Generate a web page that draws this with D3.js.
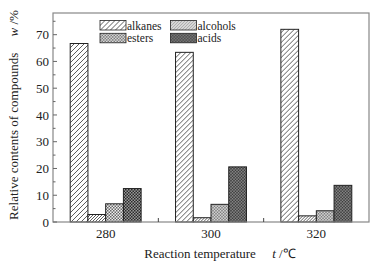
<!DOCTYPE html>
<html>
<head>
<meta charset="utf-8">
<script src="https://d3js.org/d3.v7.min.js"></script>
<style>
  body { margin: 0; background: #fff; }
  svg { display: block; font-family: "Liberation Serif", "Times New Roman", serif; }
</style>
</head>
<body>
<div id="chart"></div>
<script>
// chart data
const temperatures = ["280", "300", "320"];
const compounds = ["alkanes", "alcohols", "esters", "acids"];
const alkanes = [66.7, 63.4, 72.0];
const alcohols = [2.8, 1.6, 2.3];
const esters = [6.8, 6.6, 4.2];
const acids = [12.5, 20.6, 13.7];
const yTicks = [0, 10, 20, 30, 40, 50, 60, 70];

const seriesValues = { alkanes, alcohols, esters, acids };

const width = 382, height = 264;
const margin = { top: 13, right: 13, bottom: 42, left: 53 };

const svg = d3.select("#chart").append("svg")
  .attr("width", width)
  .attr("height", height);

// fill patterns for each compound
const defs = svg.append("defs");

function hatch(id, step) {
  const p = defs.append("pattern")
    .attr("id", id)
    .attr("patternUnits", "userSpaceOnUse")
    .attr("width", step)
    .attr("height", step);
  p.append("rect").attr("width", step).attr("height", step).attr("fill", "#fff");
  p.append("path")
    .attr("d", `M0,${step} L${step},0 M${-step / 2},${step / 2} L${step / 2},${-step / 2} M${step / 2},${step * 1.5} L${step * 1.5},${step / 2}`)
    .attr("stroke", "#333")
    .attr("stroke-width", 0.8);
}
function checker(id, bg, fg) {
  const p = defs.append("pattern")
    .attr("id", id)
    .attr("patternUnits", "userSpaceOnUse")
    .attr("width", 3)
    .attr("height", 3);
  p.append("rect").attr("width", 3).attr("height", 3).attr("fill", bg);
  p.append("rect").attr("width", 1.5).attr("height", 1.5).attr("fill", fg);
  p.append("rect").attr("x", 1.5).attr("y", 1.5).attr("width", 1.5).attr("height", 1.5).attr("fill", fg);
}
hatch("p-alkanes", 5);
hatch("p-alcohols", 3);
checker("p-esters", "#eee", "#666");
checker("p-acids", "#999", "#2a2a2a");

const fillFor = c => `url(#p-${c})`;

const x0 = d3.scaleBand()
  .domain(temperatures)
  .range([margin.left, width - margin.right])
  .padding(0);

const x1 = d3.scaleBand()
  .domain(compounds)
  .range([0, x0.bandwidth()])
  .paddingInner(0)
  .paddingOuter(0.97);

const y = d3.scaleLinear()
  .domain([0, 78.1])
  .range([height - margin.bottom, margin.top]);

// bars
const groups = svg.append("g")
  .selectAll("g")
  .data(temperatures)
  .join("g")
  .attr("transform", d => `translate(${x0(d)},0)`);

groups.selectAll("rect")
  .data((d, i) => compounds.map(c => ({ c, v: seriesValues[c][i] })))
  .join("rect")
  .attr("x", d => x1(d.c))
  .attr("y", d => y(d.v))
  .attr("width", x1.bandwidth())
  .attr("height", d => y(0) - y(d.v))
  .attr("fill", d => fillFor(d.c))
  .attr("stroke", "#222")
  .attr("stroke-width", 1);

// frame
svg.append("rect")
  .attr("x", margin.left)
  .attr("y", margin.top)
  .attr("width", width - margin.left - margin.right)
  .attr("height", height - margin.top - margin.bottom)
  .attr("fill", "none")
  .attr("stroke", "#888")
  .attr("stroke-width", 1.2);

// y axis: inward ticks
const yAxis = svg.append("g")
  .attr("transform", `translate(${margin.left},0)`);
yAxis.selectAll("line.major")
  .data(yTicks)
  .join("line")
  .attr("class", "major")
  .attr("x1", 0).attr("x2", 4)
  .attr("y1", d => y(d)).attr("y2", d => y(d))
  .attr("stroke", "#666");
yAxis.selectAll("line.minor")
  .data(yTicks.map(t => t + 5))
  .join("line")
  .attr("class", "minor")
  .attr("x1", 0).attr("x2", 2.5)
  .attr("y1", d => y(d)).attr("y2", d => y(d))
  .attr("stroke", "#666");
yAxis.selectAll("text")
  .data(yTicks)
  .join("text")
  .attr("x", -4)
  .attr("y", d => y(d))
  .attr("dy", "0.35em")
  .attr("text-anchor", "end")
  .attr("font-size", 13)
  .attr("fill", "#222")
  .text(d => d);

// x axis: category labels and boundary ticks
svg.append("g")
  .selectAll("text")
  .data(temperatures)
  .join("text")
  .attr("x", d => x0(d) + x0.bandwidth() / 2)
  .attr("y", height - margin.bottom + 16)
  .attr("text-anchor", "middle")
  .attr("font-size", 13)
  .attr("fill", "#222")
  .text(d => d);

svg.append("g")
  .selectAll("line")
  .data(temperatures.slice(1))
  .join("line")
  .attr("x1", d => x0(d)).attr("x2", d => x0(d))
  .attr("y1", y(0)).attr("y2", y(0) - 4)
  .attr("stroke", "#444");

// axis titles
svg.append("text")
  .attr("x", 220)
  .attr("y", height - 6)
  .attr("text-anchor", "middle")
  .attr("font-size", 13)
  .attr("fill", "#222")
  .attr("xml:space", "preserve")
  .html('Reaction temperature     <tspan font-style="italic">t</tspan> /℃');

svg.append("text")
  .attr("transform", `translate(18,${115}) rotate(-90)`)
  .attr("text-anchor", "middle")
  .attr("font-size", 13)
  .attr("fill", "#222")
  .attr("xml:space", "preserve")
  .html('Relative contents of compounds     <tspan font-style="italic">w</tspan> /%');

// legend
const legend = svg.append("g");
const legendItems = legend.selectAll("g")
  .data(compounds)
  .join("g")
  .attr("transform", (d, i) => `translate(${100 + (i % 2) * 70.5},${20.5 + Math.floor(i / 2) * 12.8})`);
legendItems.append("rect")
  .attr("width", 26)
  .attr("height", 9.5)
  .attr("fill", d => fillFor(d))
  .attr("stroke", "#222")
  .attr("stroke-width", 0.8);
legendItems.append("text")
  .attr("x", 27)
  .attr("y", 5)
  .attr("dy", "0.35em")
  .attr("font-size", 11.5)
  .attr("fill", "#222")
  .text(d => d);
</script>
</body>
</html>
